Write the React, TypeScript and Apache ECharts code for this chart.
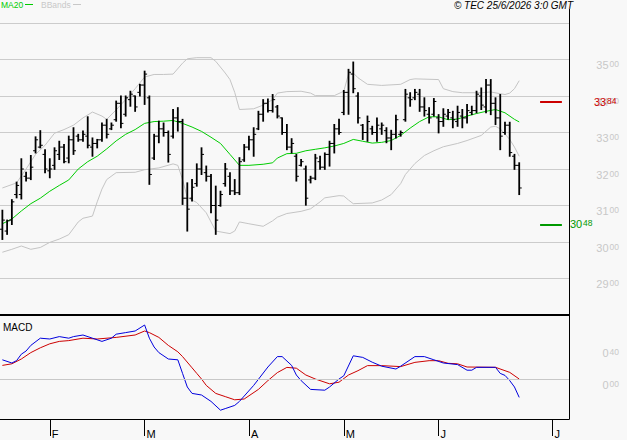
import React, { useEffect, useRef } from "react";
import * as echarts from "echarts";

// OHLC bars: [open, high, low, close], one per trading day (index = position)
const bars: number[][] = [
  [30.35, 30.87, 30.07, 30.6], [30.3, 30.6, 30.21, 30.58], [30.6, 31.16, 30.48, 31.1], [31.3, 31.64, 31.21, 31.55],
  [31.3, 32.28, 31.18, 32.0], [31.8, 31.91, 31.67, 31.75], [31.75, 32.37, 31.71, 32.05], [32.5, 32.88, 32.44, 32.8],
  [32.6, 33.05, 32.58, 32.65], [32.4, 32.53, 31.9, 32.0], [31.95, 32.28, 31.76, 32.0], [32.1, 32.58, 31.99, 32.5],
  [32.4, 32.76, 32.26, 32.6], [32.6, 32.67, 32.17, 32.2], [32.3, 32.9, 32.17, 32.8], [32.8, 33.13, 32.4, 32.5],
  [32.9, 32.95, 32.76, 32.8], [32.8, 33.04, 32.76, 32.95], [32.9, 33.43, 32.58, 32.65], [32.6, 32.85, 32.35, 32.7],
  [32.7, 32.81, 32.58, 32.8], [32.8, 33.26, 32.76, 33.2], [33.2, 33.36, 32.85, 32.95], [33.1, 33.26, 33.08, 33.2],
  [33.35, 33.86, 33.31, 33.8], [33.8, 34.0, 33.13, 33.25], [33.5, 34.0, 33.45, 33.95], [33.9, 34.13, 33.72, 34.05],
  [34.0, 34.0, 33.58, 33.7], [34.1, 34.32, 34.0, 34.3], [34.3, 34.68, 33.77, 34.6], [33.95, 34.0, 31.58, 31.85],
  [32.3, 32.95, 32.26, 32.9], [32.9, 33.31, 32.72, 33.1], [33.1, 33.26, 32.9, 33.0], [33.0, 33.04, 32.19, 32.4],
  [32.9, 33.63, 32.85, 33.4], [33.4, 33.68, 33.04, 33.3], [33.3, 33.36, 31.03, 31.2], [31.2, 31.62, 30.3, 30.9],
  [31.2, 31.71, 31.12, 31.5], [31.6, 32.14, 31.53, 32.0], [32.0, 32.58, 31.85, 32.4], [31.9, 32.08, 31.67, 31.8],
  [31.8, 31.85, 30.8, 31.0], [31.0, 31.53, 30.21, 30.6], [31.0, 31.39, 30.98, 31.3], [31.6, 32.15, 31.53, 32.0],
  [31.8, 31.9, 31.3, 31.4], [31.4, 31.71, 31.3, 31.35], [31.35, 32.31, 31.3, 32.2], [32.25, 32.67, 32.21, 32.6],
  [32.6, 32.9, 32.53, 32.8], [32.8, 33.13, 32.35, 32.95], [33.1, 33.58, 33.08, 33.5], [33.5, 33.9, 33.31, 33.8],
  [33.8, 33.92, 33.56, 33.6], [33.6, 34.04, 33.56, 33.9], [33.7, 33.74, 33.4, 33.45], [33.4, 33.4, 32.95, 33.0],
  [33.0, 33.22, 32.53, 32.6], [32.6, 32.83, 32.44, 32.7], [32.35, 32.4, 31.67, 31.8], [32.1, 32.26, 32.08, 32.2],
  [32.0, 32.08, 31.01, 31.2], [31.7, 31.8, 31.62, 31.75], [31.75, 32.4, 31.71, 32.3], [32.2, 32.35, 31.99, 32.05],
  [32.05, 32.44, 31.99, 32.4], [32.4, 32.76, 32.08, 32.7], [32.7, 33.22, 32.44, 33.1], [33.1, 33.36, 32.95, 33.0],
  [33.55, 34.15, 33.49, 34.1], [34.1, 34.73, 33.5, 34.65], [34.6, 34.93, 34.09, 34.2], [34.0, 34.09, 33.26, 33.4],
  [33.2, 33.22, 32.81, 33.0], [33.0, 33.45, 32.76, 33.3], [33.1, 33.17, 32.95, 33.0], [33.0, 33.4, 32.76, 33.2],
  [33.1, 33.26, 32.95, 33.2], [33.05, 33.13, 32.72, 32.85], [32.85, 33.06, 32.53, 32.95], [32.95, 33.47, 32.85, 33.35],
  [32.95, 33.04, 32.9, 33.0], [33.35, 34.18, 33.31, 34.05], [33.95, 34.09, 33.72, 33.9], [33.95, 34.18, 33.9, 34.1],
  [34.05, 34.18, 33.58, 33.7], [33.7, 33.95, 33.45, 33.6], [33.5, 33.68, 33.26, 33.4], [33.5, 33.93, 33.45, 33.85],
  [33.4, 33.49, 32.99, 33.3], [33.3, 33.65, 33.17, 33.5], [33.45, 33.63, 33.36, 33.55], [33.4, 33.58, 33.13, 33.35],
  [33.3, 33.72, 33.17, 33.55], [33.45, 33.63, 33.13, 33.4], [33.4, 33.77, 33.26, 33.6], [33.55, 33.72, 33.49, 33.6],
  [33.6, 34.13, 33.54, 34.05], [34.0, 34.22, 33.63, 33.75], [33.7, 34.45, 33.54, 34.3], [34.3, 34.45, 33.49, 33.8],
  [33.8, 33.95, 33.22, 33.4], [33.4, 34.04, 32.53, 32.9], [33.0, 33.28, 32.95, 33.2], [33.2, 33.28, 32.35, 32.45],
  [32.35, 32.4, 31.99, 32.1], [32.1, 32.17, 31.3, 31.48],
];

// MA20 [index, value]
const ma20: number[][] = [
  [0, 30.5], [2, 30.63], [4, 30.85], [6, 31.05], [8, 31.2], [10, 31.39], [12, 31.55], [14, 31.7], [16, 32.0],
  [18, 32.2], [20, 32.35], [22, 32.55], [24, 32.77], [26, 32.95], [28, 33.08], [30, 33.25], [32, 33.3], [34, 33.31],
  [36, 33.33], [38, 33.25], [40, 33.15], [42, 33.03], [44, 32.87], [46, 32.7], [48, 32.4], [50, 32.1], [52, 32.1],
  [55, 32.13], [57, 32.17], [58, 32.3], [60, 32.42], [62, 32.43], [64, 32.5], [66, 32.54], [68, 32.58], [70, 32.63],
  [72, 32.7], [74, 32.81], [76, 32.76], [78, 32.71], [80, 32.73], [82, 32.78], [84, 32.92], [86, 33.12], [88, 33.3],
  [90, 33.43], [92, 33.43], [94, 33.35], [96, 33.37], [98, 33.45], [100, 33.52], [102, 33.58], [104, 33.63],
  [106, 33.54], [108, 33.36], [109, 33.29],
];

// Bollinger upper band [index, value]
const bbUpper: number[][] = [
  [0, 31.48], [3, 31.62], [5, 32.0], [7, 32.4], [9, 32.65], [11, 32.98], [13, 33.08], [15, 33.2], [17, 33.4],
  [19, 33.56], [21, 33.45], [22, 33.36], [24, 33.62], [26, 33.9], [28, 34.2], [30, 34.52], [32, 34.59], [34, 34.59],
  [36, 34.6], [38, 34.9], [39, 35.02], [41, 35.05], [44, 35.05], [45, 34.95], [47, 34.63], [48, 34.45], [49, 34.1],
  [50, 33.63], [53, 33.65], [55, 33.75], [57, 33.9], [58, 34.08], [60, 34.12], [63, 34.13], [65, 34.08], [66, 34.01],
  [70, 34.01], [72, 34.13], [73, 34.6], [74, 34.63], [75, 34.5], [77, 34.32], [80, 34.29], [84, 34.32], [86, 34.45],
  [87, 34.47], [92, 34.45], [93, 34.2], [95, 34.12], [97, 34.09], [101, 34.09], [103, 34.11], [106, 34.04],
  [107, 34.08], [108, 34.2], [109, 34.42],
];

// Bollinger lower band [index, value]
const bbLower: number[][] = [
  [0, 29.72], [2, 29.8], [4, 29.89], [6, 29.8], [8, 29.85], [10, 29.99], [12, 30.08], [14, 30.2], [16, 30.55],
  [17, 30.65], [19, 30.71], [20, 31.1], [21, 31.45], [22, 31.71], [24, 31.9], [28, 31.91], [30, 31.98], [33, 32.03],
  [36, 32.14], [37, 32.1], [38, 31.71], [39, 31.22], [41, 31.08], [43, 30.8], [45, 30.3], [48, 30.23], [49, 30.3],
  [50, 30.55], [52, 30.5], [55, 30.43], [57, 30.58], [58, 30.68], [60, 30.78], [63, 30.84], [65, 30.91], [67, 31.1],
  [68, 31.21], [71, 31.27], [72, 31.26], [73, 31.15], [74, 31.05], [78, 31.07], [80, 31.15], [82, 31.3], [84, 31.6],
  [85, 31.85], [87, 32.15], [89, 32.37], [91, 32.5], [93, 32.61], [96, 32.7], [98, 32.78], [101, 32.92],
  [103, 33.15], [104, 33.17], [105, 33.1], [107, 32.81], [108, 32.6], [109, 32.35],
];

// MACD line [index, value]
const macdLine: number[][] = [
  [0, 0.24], [2, 0.2], [3, 0.23], [4, 0.31], [5, 0.35], [6, 0.42], [8, 0.51], [10, 0.5], [12, 0.53], [14, 0.51],
  [15, 0.53], [17, 0.55], [19, 0.51], [21, 0.47], [23, 0.51], [24, 0.56], [26, 0.58], [28, 0.6], [30, 0.675],
  [31, 0.51], [32, 0.4], [33, 0.33], [35, 0.25], [37, 0.24], [38, 0.07], [39, -0.1], [40, -0.18], [42, -0.2],
  [44, -0.28], [46, -0.39], [47, -0.37], [49, -0.33], [50, -0.28], [53, -0.08], [56, 0.15], [58, 0.28], [59, 0.28],
  [61, 0.17], [62, 0.05], [63, -0.02], [65, -0.13], [68, -0.14], [69, -0.1], [71, 0.0], [72, 0.04], [74, 0.29],
  [76, 0.27], [78, 0.21], [80, 0.16], [83, 0.125], [84, 0.16], [87, 0.28], [89, 0.28], [91, 0.24], [93, 0.2],
  [96, 0.18], [98, 0.11], [99, 0.11], [100, 0.146], [104, 0.146], [105, 0.07], [106, 0.045], [107, -0.02],
  [108, -0.1], [109, -0.23],
];

// MACD signal line [index, value]
const macdSignal: number[][] = [
  [0, 0.17], [2, 0.19], [4, 0.25], [6, 0.33], [8, 0.39], [10, 0.44], [12, 0.47], [14, 0.48], [17, 0.51], [20, 0.5],
  [24, 0.52], [28, 0.55], [30, 0.6], [31, 0.58], [33, 0.52], [35, 0.42], [37, 0.34], [38, 0.28], [40, 0.14],
  [41, 0.07], [42, 0.0], [43, -0.08], [45, -0.18], [47, -0.22], [49, -0.26], [51, -0.25], [54, -0.13], [56, -0.02],
  [58, 0.08], [60, 0.145], [62, 0.135], [64, 0.05], [66, 0.0], [69, -0.06], [71, -0.04], [73, 0.05], [75, 0.104],
  [77, 0.167], [80, 0.167], [84, 0.155], [87, 0.208], [90, 0.229], [92, 0.229], [94, 0.196], [96, 0.19],
  [98, 0.15], [104, 0.146], [107, 0.083], [109, 0.0],
];

const monthTickIdx = [10, 30, 52, 72, 92, 116];
const monthLabels = ["F", "M", "A", "M", "J", "J"];
const resistanceLevel = 33.84;
const supportLevel = 30.48;
const macdLabelValues = [0, 0.4];

const FONT = "'Liberation Sans', Arial, sans-serif";

function fmt(v: number): string {
  const [a, b] = v.toFixed(2).split(".");
  return `{a|${a}}{b|${b}}`;
}
function rich(color: string) {
  return {
    a: { fontSize: 11, fontFamily: FONT, color, lineHeight: 11 },
    b: { fontSize: 8.5, fontFamily: FONT, color, lineHeight: 11, verticalAlign: "top", padding: [0, 0, 0, 1] },
  };
}

export default function App() {
  const ref = useRef<HTMLDivElement>(null);
  useEffect(() => {
    if (!ref.current) return;
    const chart = echarts.init(ref.current, undefined, { renderer: "svg" });
    const ohlc = bars.map((b, i) => [i, b[0], b[1], b[2], b[3]]);
    const option: any = {
      animation: false,
      backgroundColor: "#f8f8f8",
      grid: [
        { left: 0, right: 58, top: 23, height: 292 },
        { left: 0, right: 58, top: 315, height: 104 },
      ],
      xAxis: [
        { type: "value", gridIndex: 0, min: -0.5, max: 119.5, show: false },
        {
          type: "value", gridIndex: 1, min: -0.5, max: 119.5,
          axisLine: { show: true, onZero: false, lineStyle: { color: "#000", width: 1 } },
          axisTick: { show: true, customValues: monthTickIdx, length: 17, lineStyle: { color: "#000", width: 1 } },
          axisLabel: {
            show: true, customValues: monthTickIdx,
            formatter: (v: number) => { const k = monthTickIdx.indexOf(Math.round(v)); return k >= 0 ? monthLabels[k] : ""; },
            align: "left", margin: 9, padding: [0, 0, 0, 2], color: "#000", fontSize: 11, fontFamily: FONT,
          },
          splitLine: { show: false },
        },
      ],
      yAxis: [
        {
          type: "value", gridIndex: 0, position: "right", min: 28, max: 36, interval: 1,
          axisLine: { show: false }, axisTick: { show: false },
          splitLine: { show: true, lineStyle: { color: "#cccccc", width: 1 } },
          axisLabel: {
            show: true, margin: 50, align: "right", verticalAlign: "top",
            formatter: (v: number) => (v >= 29 && v <= 35 ? fmt(v) : ""),
            rich: rich("#c8c8c8"),
          },
        },
        {
          type: "value", gridIndex: 1, position: "right", min: -0.5, max: 0.8, interval: 0.1,
          axisLine: { show: false }, axisTick: { show: false }, splitLine: { show: false },
          axisLabel: {
            show: true, margin: 50, align: "right", verticalAlign: "top",
            formatter: (v: number) => (macdLabelValues.some((m) => Math.abs(m - v) < 1e-6) ? fmt(Math.abs(v) < 1e-9 ? 0 : v) : ""),
            rich: rich("#c8c8c8"),
          },
        },
      ],
      series: [
        { type: "line", xAxisIndex: 0, yAxisIndex: 0, data: bbUpper, symbol: "none", lineStyle: { color: "#c4c4c4", width: 1 }, z: 2 },
        { type: "line", xAxisIndex: 0, yAxisIndex: 0, data: bbLower, symbol: "none", lineStyle: { color: "#c4c4c4", width: 1 }, z: 2 },
        { type: "line", xAxisIndex: 0, yAxisIndex: 0, data: ma20, symbol: "none", lineStyle: { color: "#00cc00", width: 1 }, z: 3 },
        {
          type: "custom", xAxisIndex: 0, yAxisIndex: 0, data: ohlc, z: 4,
          encode: { x: 0, y: [1, 2, 3, 4] },
          renderItem: (params: any, api: any) => {
            const x = api.value(0);
            const o = api.coord([x, api.value(1)]);
            const h = api.coord([x, api.value(2)]);
            const l = api.coord([x, api.value(3)]);
            const c = api.coord([x, api.value(4)]);
            const st = { stroke: "#000", lineWidth: 1.8 };
            return {
              type: "group",
              children: [
                { type: "line", shape: { x1: h[0], y1: h[1] - 0.5, x2: l[0], y2: l[1] + 0.5 }, style: st },
                { type: "line", shape: { x1: o[0] - 2.5, y1: o[1], x2: o[0], y2: o[1] }, style: { stroke: "#000", lineWidth: 1 } },
                { type: "line", shape: { x1: c[0], y1: c[1], x2: c[0] + 2.5, y2: c[1] }, style: { stroke: "#000", lineWidth: 1 } },
              ],
            };
          },
          markLine: {
            silent: true, symbol: ["none", "none"], animation: false,
            data: [
              [
                {
                  coord: [113.4, resistanceLevel], lineStyle: { color: "#cc0000", width: 2, type: "solid" },
                  label: { show: true, position: "end", distance: 32, formatter: fmt(resistanceLevel), rich: rich("#cc0000") },
                },
                { coord: [118, resistanceLevel] },
              ],
              [
                {
                  coord: [113.4, supportLevel], lineStyle: { color: "#009900", width: 2, type: "solid" },
                  label: { show: true, position: "end", distance: 8, formatter: fmt(supportLevel), rich: rich("#009900") },
                },
                { coord: [118, supportLevel] },
              ],
            ],
          },
        },
        {
          type: "line", xAxisIndex: 1, yAxisIndex: 1, data: macdSignal, symbol: "none",
          lineStyle: { color: "#cc0000", width: 1 }, z: 3,
          markLine: {
            silent: true, symbol: ["none", "none"], label: { show: false },
            lineStyle: { color: "#c8c8c8", width: 1, type: "solid" },
            data: [{ yAxis: 0 }],
          },
        },
        { type: "line", xAxisIndex: 1, yAxisIndex: 1, data: macdLine, symbol: "none", lineStyle: { color: "#0000dd", width: 1 }, z: 4 },
      ],
      graphic: [
        { type: "text", x: 1, y: 0, style: { text: "MA20", fill: "#00cc00", fontSize: 8.5, fontFamily: FONT } },
        { type: "line", shape: { x1: 25, y1: 4.5, x2: 33, y2: 4.5 }, style: { stroke: "#00cc00", lineWidth: 1 } },
        { type: "text", x: 41, y: 0, style: { text: "BBands", fill: "#c8c8c8", fontSize: 8.5, fontFamily: FONT } },
        { type: "line", shape: { x1: 73, y1: 4.5, x2: 81, y2: 4.5 }, style: { stroke: "#c8c8c8", lineWidth: 1 } },
        { type: "text", x: 573, y: 0, style: { text: "© TEC 25/6/2026 3:0 GMT", fill: "#000", fontSize: 10, fontStyle: "italic", fontFamily: FONT, align: "right" } },
        { type: "text", x: 3, y: 322, style: { text: "MACD", fill: "#000", fontSize: 10, fontFamily: FONT } },
        { type: "line", z: 100, shape: { x1: 0, y1: 315, x2: 569, y2: 315 }, style: { stroke: "#000", lineWidth: 2 } },
        { type: "line", z: 100, shape: { x1: 569.5, y1: 9, x2: 569.5, y2: 419.5 }, style: { stroke: "#000", lineWidth: 1 } },
      ],
    };
    chart.setOption(option);
    return () => chart.dispose();
  }, []);
  return <div ref={ref} style={{ position: "fixed", left: 0, top: 0, width: 627, height: 440 }} />;
}
